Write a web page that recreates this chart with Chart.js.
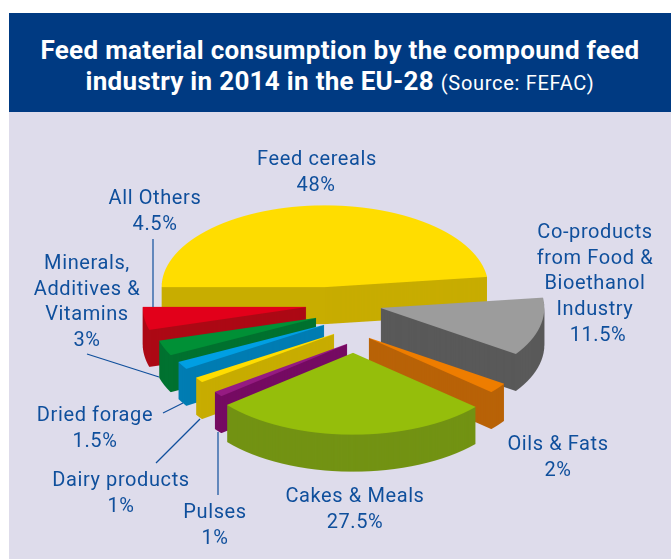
<!DOCTYPE html>
<html>
<head>
<meta charset="utf-8">
<script src="https://cdn.jsdelivr.net/npm/chart.js@4"></script>
<style>
html,body{margin:0;padding:0;background:#fff;overflow:hidden}
#stage{position:relative;width:671px;height:559px;overflow:hidden}
#panel{position:absolute;left:9px;top:112px;width:662px;height:447px;background:#DEDCEB}
#band{position:absolute;left:9px;top:13px;width:662px;height:99px;background:#003A82;color:#fff;text-align:center;font-family:Roboto,sans-serif}
#band .l{position:absolute;left:0;right:0;white-space:nowrap;font-weight:700;font-size:26px;line-height:30px;letter-spacing:.3px}
#band .s{font-weight:400;font-size:20px;letter-spacing:.7px}
canvas{position:absolute;left:0;top:0}
</style>
</head>
<body>
<div id="stage">
  <div id="panel"></div>
  <div id="band">
    <div class="l" style="top:22px">Feed material consumption by the compound feed</div>
    <div class="l" style="top:53px">industry in 2014 in the EU-28 <span class="s">(Source: FEFAC)</span></div>
  </div>
  <canvas id="c" width="671" height="559"></canvas>
</div>
<script>
// ---- data, clockwise from the left edge of the pie
const categories = ["Feed cereals", "Co-products from Food & Bioethanol Industry", "Oils & Fats", "Cakes & Meals", "Pulses", "Dairy products", "Dried forage", "Minerals, Additives & Vitamins", "All Others"];
const shares = [48, 11.5, 2, 27.5, 1, 1, 1.5, 3, 4.5];
const shareLabels = ["48%", "11.5%", "2%", "27.5%", "1%", "1%", "1.5%", "3%", "4.5%"];

// ---- styling
const topColours  = ["#FFDD00", "#9C9C9C", "#EE7D00", "#95BE0B", "#951B81", "#FFDD00", "#009FE3", "#009036", "#E2001A"];
const sideColours = ["#C8AD00", "#5A5A5A", "#B96308", "#739314", "#760C63", "#C8AD00", "#007DB3", "#007230", "#AD0A16"];
const explodeX = [0, 56, 44, 28, 22, 9, -1, -9, -19];
const explodeY = [0, 21, 51, 66, 57, 47, 38, 31, 20];
const drawOrder = [0, 1, 2, 8, 7, 6, 5, 4, 3];
const tilt = 0.5, depth = 37, supersample = 4, edge = 0.6;

// ---- label layout: lines, centre x, first-line middle y, line step
const labelLines = [["Feed cereals"], ["Co-products", "from Food &", "Bioethanol", "Industry"], ["Oils & Fats"], ["Cakes & Meals"], ["Pulses"], ["Dairy products"], ["Dried forage"], ["Minerals,", "Additives &", "Vitamins"], ["All Others"]];
const labelX = [317, 595, 558, 355, 215, 121, 95, 87, 155];
const labelY = [160, 233, 445, 497, 513, 481, 416, 264, 199];
const shareX = [316, 598, 558, 355, 215, 121, 95, 87, 155];
const leaders = [[153,239,153,307],[87,354,159,377],[163,413,183,403],[156,463,200,419],[218,495,218,432]];

const pie3d = {
  id: "pie3d",
  beforeDatasetsDraw(chart) {
    const arcs = chart.getDatasetMeta(0).data;
    const off = document.createElement("canvas");
    off.width = chart.width * supersample;
    off.height = chart.height * supersample;
    const ctx = off.getContext("2d");
    ctx.scale(supersample, supersample);
    drawOrder.forEach(i => {
      const arc = arcs[i];
      const base = arc.options;
      const paint = (dy, colour) => {
        arc.options = Object.assign({}, base, { backgroundColor: colour, borderColor: colour, borderWidth: edge, borderAlign: "center" });
        ctx.save();
        ctx.translate(arc.x + explodeX[i], arc.y + explodeY[i] + dy);
        ctx.scale(1, tilt);
        ctx.translate(-arc.x, -arc.y);
        arc.draw(ctx);
        ctx.restore();
      };
      for (let d = depth; d > 0; d -= 1 / supersample) paint(d, sideColours[i]);
      paint(0, topColours[i]);
      arc.options = base;
    });
    chart.ctx.save();
    chart.ctx.imageSmoothingEnabled = true;
    chart.ctx.imageSmoothingQuality = "high";
    chart.ctx.drawImage(off, 0, 0, chart.width, chart.height);
    chart.ctx.restore();
    return false;
  },
  afterDraw(chart) {
    const ctx = chart.ctx;
    ctx.save();
    ctx.strokeStyle = "#0F4F9C";
    ctx.lineWidth = 1.2;
    leaders.forEach(l => { ctx.beginPath(); ctx.moveTo(l[0], l[1]); ctx.lineTo(l[2], l[3]); ctx.stroke(); });
    ctx.fillStyle = "#0F4F9C";
    ctx.font = "400 20px Roboto, sans-serif";
    ctx.letterSpacing = "0.6px";
    ctx.textAlign = "center";
    ctx.textBaseline = "middle";
    categories.forEach((_, i) => {
      labelLines[i].forEach((t, k) => ctx.fillText(t, labelX[i], labelY[i] + k * 25.7));
      ctx.fillText(shareLabels[i], shareX[i], labelY[i] + labelLines[i].length * 25.7);
    });
    ctx.restore();
  }
};

new Chart(document.getElementById("c"), {
  type: "pie",
  data: { labels: categories, datasets: [{ data: shares, backgroundColor: topColours, borderWidth: 0 }] },
  options: {
    responsive: false,
    animation: false,
    devicePixelRatio: 1,
    rotation: -90,
    layout: { padding: { left: 162, right: 183, top: 124, bottom: 109 } },
    plugins: { legend: { display: false }, tooltip: { enabled: false }, title: { display: false } },
    events: []
  },
  plugins: [pie3d]
});
</script>
</body>
</html>
